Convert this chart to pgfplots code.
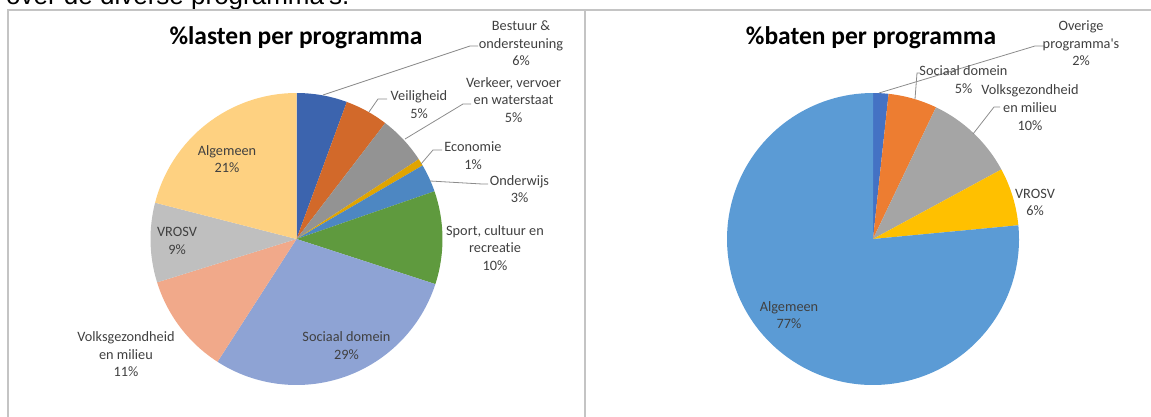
\documentclass[border=0pt]{standalone}
\usepackage{pgfplots}
\pgfplotsset{compat=1.18}
\usepackage{fontspec}
\setmainfont{Carlito}[Ligatures={NoCommon}]
\newfontfamily\arialfont{Liberation Sans}[Ligatures={NoCommon}]

% left pie colours
\definecolor{lA}{HTML}{3C64AE}
\definecolor{lB}{HTML}{D2692A}
\definecolor{lC}{HTML}{939393}
\definecolor{lD}{HTML}{E0A400}
\definecolor{lE}{HTML}{4D87C2}
\definecolor{lF}{HTML}{5F9A3E}
\definecolor{lG}{HTML}{8EA3D4}
\definecolor{lH}{HTML}{F1A98A}
\definecolor{lI}{HTML}{BFBFBF}
\definecolor{lJ}{HTML}{FED181}
% right pie colours
\definecolor{rA}{HTML}{4472C4}
\definecolor{rB}{HTML}{ED7D31}
\definecolor{rC}{HTML}{A5A5A5}
\definecolor{rD}{HTML}{FFC000}
\definecolor{rE}{HTML}{5B9BD5}
\definecolor{labgray}{HTML}{404040}
\definecolor{leadgray}{HTML}{8C8C8C}
\definecolor{boxgray}{HTML}{C4C4C4}

\gdef\cum{0}
% #1 = value (percent), #2 = colour
\newcommand\slice[2]{%
  \pgfmathsetmacro\aA{90-3.6*\cum}%
  \pgfmathsetmacro\newcum{\cum+#1}%
  \pgfmathsetmacro\aB{90-3.6*\newcum}%
  \global\let\cum\newcum
  \edef\doslice{\noexpand\fill[#2] (axis cs:0,0) -- (axis cs:{cos(\aA)},{sin(\aA)}) arc[start angle=\aA, end angle=\aB, radius=146pt] -- cycle;}%
  \doslice}

\newcommand\tl[3]{\node[lbl,anchor=base] at (#1,{416-#2}) {#3};}

\begin{document}
\begin{tikzpicture}[x=1pt,y=1pt,
  lbl/.style={font=\fontsize{14.3}{17.5}\selectfont, text=labgray, inner sep=0pt},
  ttl/.style={font=\fontsize{25.5}{30}\selectfont\bfseries, text=black, inner sep=0pt},
  lead/.style={draw=leadgray, line width=0.8pt}]
\useasboundingbox (0,0) rectangle (1151,416);

% header text (cut off at the top)
\node[anchor=base west, inner sep=0pt, font=\arialfont\fontsize{26}{30}\selectfont] at (6,411) {over de diverse programma\textquotesingle s.};

% boxes
\draw[boxgray, line width=1.2pt] (8,-5) -- (8,406) -- (1160,406);
\draw[boxgray, line width=1.2pt] (585,-5) -- (585,406);

% titles
\node[ttl,anchor=base] at (296,371) {\%lasten per programma};
\node[ttl,anchor=base] at (871,371) {\%baten per programma};

% left pie
\gdef\cum{0}
\begin{axis}[at={(296.5pt,177pt)}, anchor=center, width=292pt, height=292pt,
  scale only axis, xmin=-1, xmax=1, ymin=-1, ymax=1, hide axis, clip=false]
\slice{5.6}{lA}
\slice{4.8}{lB}
\slice{5.4}{lC}
\slice{0.8}{lD}
\slice{3.1}{lE}
\slice{10.3}{lF}
\slice{29.1}{lG}
\slice{11.1}{lH}
\slice{8.8}{lI}
\slice{21.0}{lJ}
\end{axis}

% right pie
\gdef\cum{0}
\begin{axis}[at={(873pt,177pt)}, anchor=center, width=292pt, height=292pt,
  scale only axis, xmin=-1, xmax=1, ymin=-1, ymax=1, hide axis, clip=false]
\slice{1.7}{rA}
\slice{5.4}{rB}
\slice{10.0}{rC}
\slice{6.4}{rD}
\slice{76.5}{rE}
\end{axis}

% leader lines (left)
\draw[lead] (323,{416-95}) -- (470,{416-46}) -- (478,{416-46});
\draw[lead] (369,{416-112}) -- (378,{416-99}) -- (387,{416-99});
\draw[lead] (405,{416-139}) -- (463,{416-104}) -- (471,{416-104});
\draw[lead] (421,{416-164}) -- (433,{416-150}) -- (442,{416-150});
\draw[lead] (430,{416-181}) -- (482,{416-184}) -- (488,{416-184});
% leader lines (right)
\draw[lead] (879,{416-93}) -- (1035,{416-46}) -- (1045,{416-46});
\draw[lead] (915,{416-99}) -- (917,{416-73}) -- (920,{416-73});
\draw[lead] (973,{416-134}) -- (994,{416-107}) -- (1000,{416-107});

% labels left
\tl{521}{30.7}{Bestuur \&}
\tl{521}{48.2}{ondersteuning}
\tl{521}{65.7}{6\%}
\tl{419}{100.7}{Veiligheid}
\tl{419}{118.2}{5\%}
\tl{513.5}{87.3}{Verkeer, vervoer}
\tl{513.5}{104.8}{en waterstaat}
\tl{513.5}{122.3}{5\%}
\tl{473}{151.7}{Economie}
\tl{473}{169.2}{1\%}
\tl{519.5}{185}{Onderwijs}
\tl{519.5}{202.5}{3\%}
\tl{495}{235}{Sport, cultuur en}
\tl{495}{252.5}{recreatie}
\tl{495}{270}{10\%}
\tl{346.5}{341.7}{Sociaal domein}
\tl{346.5}{359.2}{29\%}
\tl{126}{341.7}{Volksgezondheid}
\tl{126}{359.2}{en milieu}
\tl{126}{376.7}{11\%}
\tl{177}{236.7}{VROSV}
\tl{177}{254.2}{9\%}
\tl{227}{155}{Algemeen}
\tl{227}{172.5}{21\%}

% labels right
\tl{1081}{30.7}{Overige}
\tl{1081}{48.2}{programma\textquotesingle s}
\tl{1081}{65.7}{2\%}
\tl{963.5}{76}{Sociaal domein}
\tl{963.5}{93.5}{5\%}
\tl{1030}{95}{Volksgezondheid}
\tl{1030}{112.5}{en milieu}
\tl{1030}{130}{10\%}
\tl{1035}{198}{VROSV}
\tl{1035}{215.5}{6\%}
\tl{789}{311}{Algemeen}
\tl{789}{328.5}{77\%}
\end{tikzpicture}
\end{document}
